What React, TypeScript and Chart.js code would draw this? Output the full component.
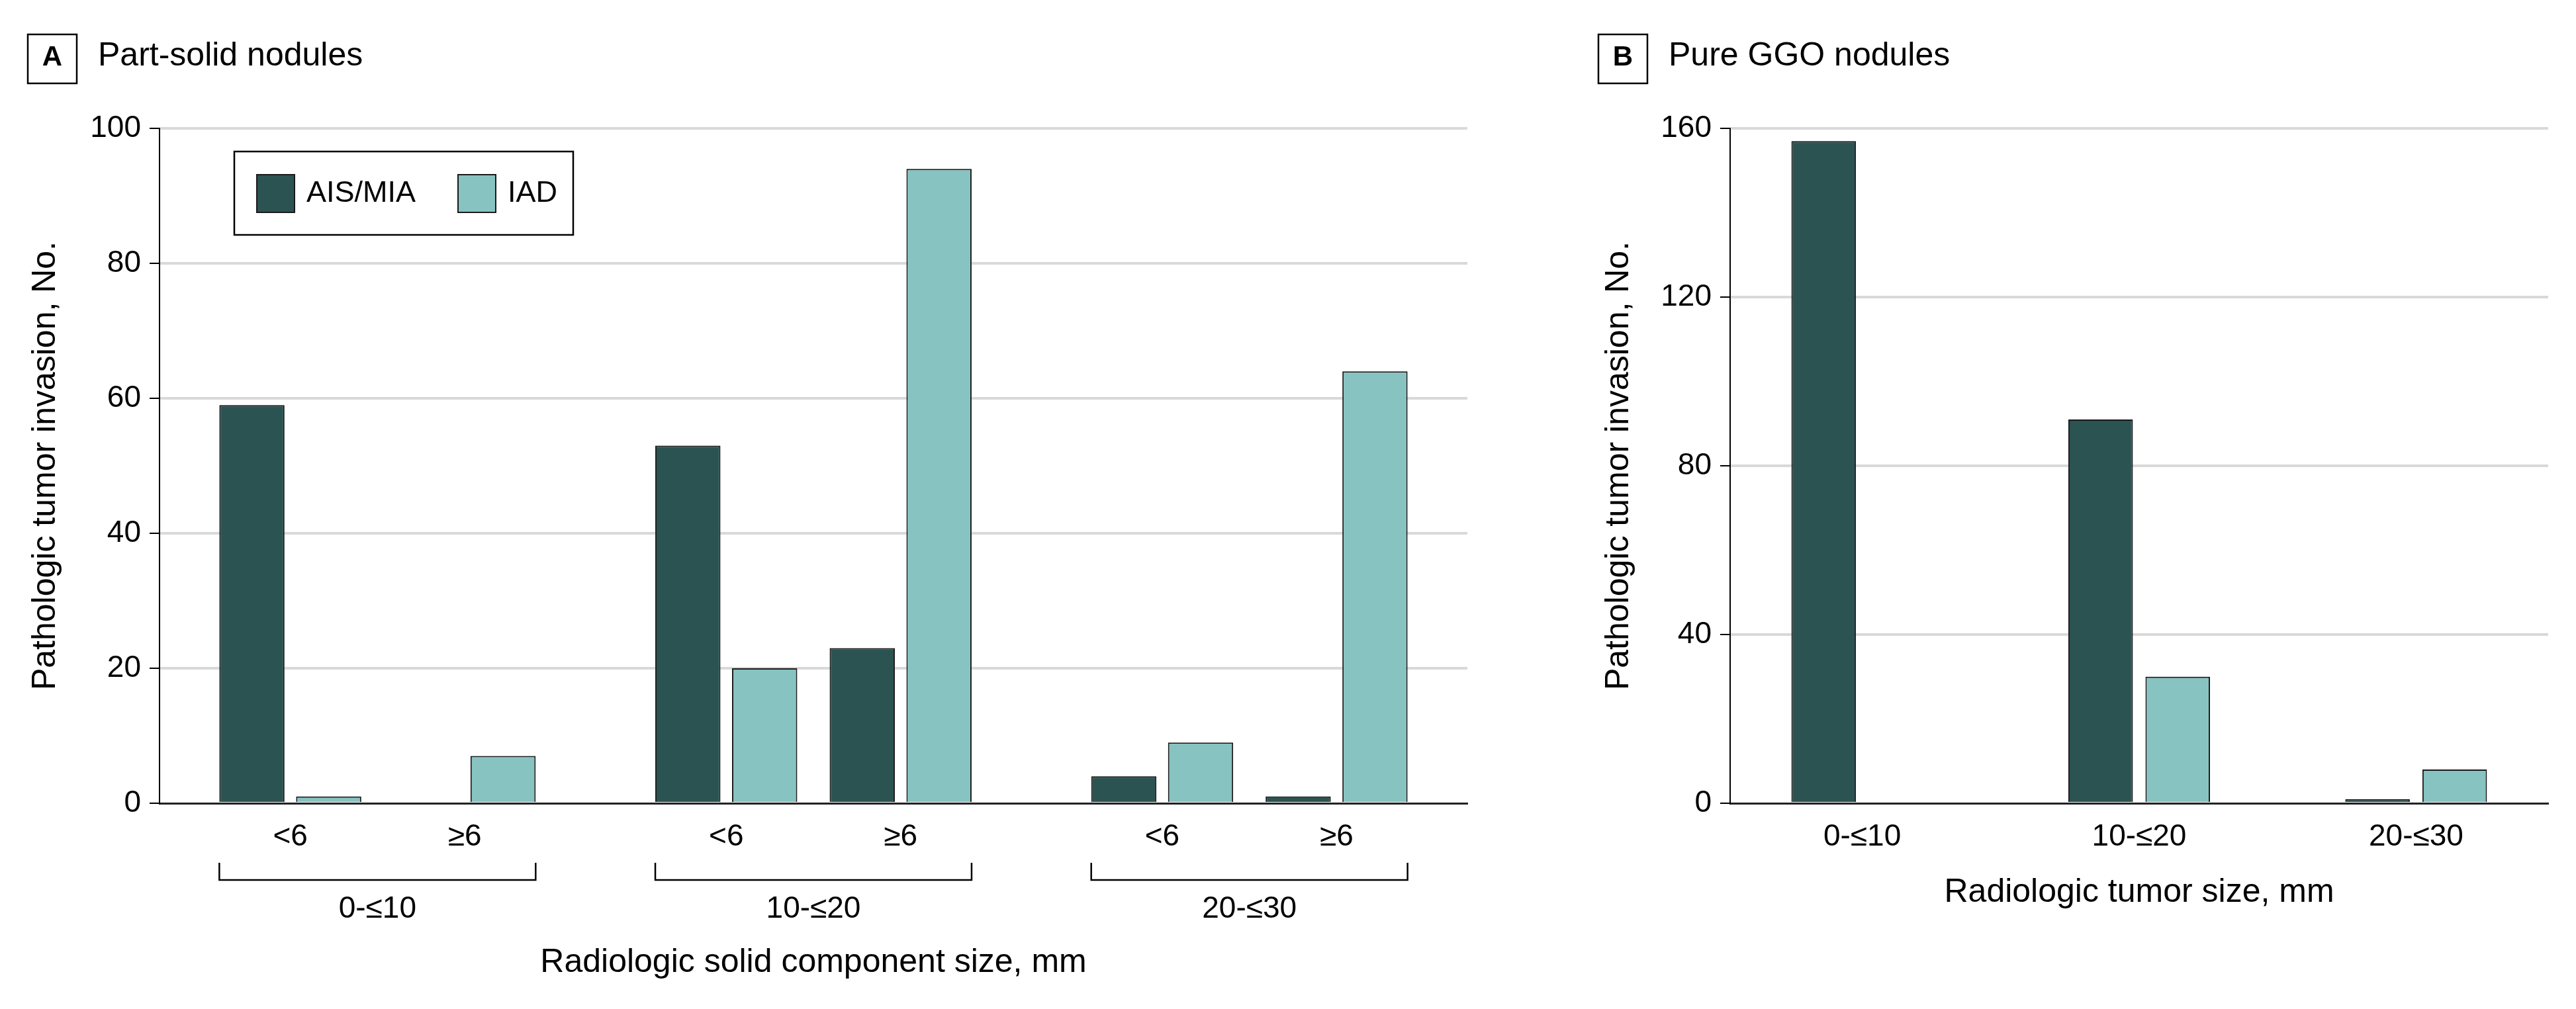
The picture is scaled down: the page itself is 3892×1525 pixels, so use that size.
import React, { useEffect, useRef } from 'react';
import { Chart, registerables } from 'chart.js';

Chart.register(...registerables);

// ---------- data ----------
const seriesNames = ['AIS/MIA', 'IAD'];

// Panel A: part-solid nodules
const sizeGroupsA = ['0-≤10', '10-≤20', '20-≤30'];
const solidSubgroupsA = ['<6', '≥6'];
const aisMiaA = [59, 0, 53, 23, 4, 1];
const iadA = [1, 7, 20, 94, 9, 64];
const yTicksA = [0, 20, 40, 60, 80, 100];

// Panel B: pure GGO nodules
const sizeGroupsB = ['0-≤10', '10-≤20', '20-≤30'];
const aisMiaB = [157, 91, 1];
const iadB = [0, 30, 8];
const yTicksB = [0, 40, 80, 120, 160];

// ---------- styles ----------
const DARK = '#2b5352';
const LIGHT = '#86c3c1';
const GRID = '#d9d9d9';
const FONT = '"Liberation Sans", Arial, Helvetica, sans-serif';

// layout helpers for panel A (group spacing on a linear axis)
const GROUP_STEP = 5;
const SUB_STEP = 2;
const posA = (i: number) => Math.floor(i / solidSubgroupsA.length) * GROUP_STEP + (i % solidSubgroupsA.length) * SUB_STEP;
const groupCenterA = (g: number) => g * GROUP_STEP + ((solidSubgroupsA.length - 1) * SUB_STEP) / 2;

function panelHeader(ctx: CanvasRenderingContext2D, boxX: number, letter: string, title: string) {
  ctx.save();
  ctx.strokeStyle = '#000';
  ctx.lineWidth = 2.5;
  ctx.strokeRect(boxX, 52, 74, 74);
  ctx.fillStyle = '#000';
  ctx.textBaseline = 'alphabetic';
  ctx.textAlign = 'center';
  ctx.font = `bold 42px ${FONT}`;
  ctx.fillText(letter, boxX + 37, 99);
  ctx.textAlign = 'left';
  ctx.font = `50px ${FONT}`;
  ctx.fillText(title, boxX + 106, 99);
  ctx.restore();
}

const headerPlugin = (boxX: number, letter: string, title: string) => ({
  id: 'header' + letter,
  afterDraw(chart: any) {
    panelHeader(chart.ctx, boxX, letter, title);
  },
});

const legendBoxPlugin = {
  id: 'legendBox',
  afterDraw(chart: any) {
    const ctx = chart.ctx as CanvasRenderingContext2D;
    const a = chart.chartArea;
    const x0 = a.left + 113;
    const y0 = a.top + 35;
    ctx.save();
    ctx.fillStyle = '#fff';
    ctx.fillRect(x0, y0, 512, 126);
    ctx.strokeStyle = '#000';
    ctx.lineWidth = 2.5;
    ctx.strokeRect(x0, y0, 512, 126);
    const offsets = [33, 337];
    chart.data.datasets.forEach((ds: any, i: number) => {
      const sx = x0 + offsets[i];
      const sy = y0 + 34;
      ctx.fillStyle = ds.backgroundColor;
      ctx.fillRect(sx, sy, 59, 59);
      ctx.lineWidth = 2;
      ctx.strokeStyle = '#1a1a1a';
      ctx.strokeRect(sx + 1, sy + 1, 57, 57);
      ctx.fillStyle = '#000';
      ctx.font = `45px ${FONT}`;
      ctx.textBaseline = 'middle';
      ctx.textAlign = 'left';
      ctx.fillText(ds.label, sx + 76, sy + 30);
    });
    ctx.restore();
  },
};

const bracketPlugin = {
  id: 'brackets',
  afterDraw(chart: any) {
    const ctx = chart.ctx as CanvasRenderingContext2D;
    const m0 = chart.getDatasetMeta(0).data;
    const m1 = chart.getDatasetMeta(1).data;
    const bottom = chart.chartArea.bottom;
    const n = solidSubgroupsA.length;
    ctx.save();
    ctx.strokeStyle = '#000';
    ctx.lineWidth = 2.5;
    sizeGroupsA.forEach((_, g) => {
      const first = m0[g * n];
      const last = m1[g * n + n - 1];
      const l = first.x - first.width / 2;
      const r = last.x + last.width / 2;
      ctx.beginPath();
      ctx.moveTo(l, bottom + 90);
      ctx.lineTo(l, bottom + 116);
      ctx.lineTo(r, bottom + 116);
      ctx.lineTo(r, bottom + 90);
      ctx.stroke();
    });
    ctx.restore();
  },
};

const yAxisCommon = (ticks: number[], width: number, titlePad: number) => ({
  min: ticks[0],
  max: ticks[ticks.length - 1],
  afterBuildTicks: (s: any) => {
    s.ticks = ticks.map((v) => ({ value: v }));
  },
  afterFit: (s: any) => {
    s.width = width;
  },
  grid: {
    color: (c: any) => (c.tick && c.tick.value === 0 ? 'rgba(0,0,0,0)' : GRID),
    lineWidth: 4,
    drawTicks: true,
    tickLength: 15,
    tickColor: '#000',
    tickWidth: 2,
  },
  border: { display: true, color: '#000', width: 2 },
  ticks: { padding: 13, font: { size: 46, family: FONT }, color: '#000' },
  title: {
    display: true,
    text: 'Pathologic tumor invasion, No.',
    font: { size: 50, family: FONT },
    color: '#000',
    padding: { top: titlePad, bottom: 0 },
  },
});

function ChartA() {
  const ref = useRef<HTMLCanvasElement | null>(null);
  useEffect(() => {
    if (!ref.current) return;
    const chart = new Chart(ref.current, {
      type: 'bar',
      data: {
        datasets: [
          {
            label: seriesNames[0],
            data: aisMiaA.map((v, i) => ({ x: posA(i), y: v })),
            backgroundColor: DARK,
            borderColor: '#1a1a1a',
            borderWidth: 2,
            categoryPercentage: 0.8805,
            barPercentage: 0.849,
            xAxisID: 'x',
          },
          {
            label: seriesNames[1],
            data: iadA.map((v, i) => ({ x: posA(i), y: v })),
            backgroundColor: LIGHT,
            borderColor: '#1a1a1a',
            borderWidth: 2,
            categoryPercentage: 0.8805,
            barPercentage: 0.849,
            xAxisID: 'x',
          },
        ] as any,
      },
      options: {
        animation: false,
        responsive: false,
        devicePixelRatio: 1,
        layout: { padding: { top: 194, right: 83, bottom: 0, left: 0 } },
        plugins: { legend: { display: false }, tooltip: { enabled: false } },
        scales: {
          x: {
            type: 'linear',
            position: 'bottom',
            weight: 0,
            offset: false,
            min: -1.5,
            max: 13.5,
            afterBuildTicks: (s: any) => {
              s.ticks = aisMiaA.map((_, i) => ({ value: posA(i) }));
            },
            afterFit: (s: any) => {
              s.height = 80;
            },
            grid: { display: false, drawTicks: false },
            border: { display: true, color: '#222', width: 3 },
            ticks: {
              autoSkip: false,
              maxRotation: 0,
              padding: 24,
              font: { size: 46, family: FONT },
              color: '#000',
              callback: (_v: any, i: number) => solidSubgroupsA[i % solidSubgroupsA.length],
            },
          },
          xg: {
            type: 'linear',
            position: 'bottom',
            weight: 1,
            offset: false,
            min: -1.5,
            max: 13.5,
            afterBuildTicks: (s: any) => {
              s.ticks = sizeGroupsA.map((_, g) => ({ value: groupCenterA(g) }));
            },
            afterFit: (s: any) => {
              s.height = 231;
            },
            grid: { display: false, drawTicks: false },
            border: { display: false },
            ticks: {
              autoSkip: false,
              maxRotation: 0,
              padding: 53,
              font: { size: 46, family: FONT },
              color: '#000',
              callback: (_v: any, i: number) => sizeGroupsA[i],
            },
            title: {
              display: true,
              text: 'Radiologic solid component size, mm',
              font: { size: 50, family: FONT },
              color: '#000',
              padding: { top: 0, bottom: 40 },
            },
          },
          y: yAxisCommon(yTicksA, 241, 39) as any,
        } as any,
      },
      plugins: [headerPlugin(42, 'A', 'Part-solid nodules'), legendBoxPlugin, bracketPlugin],
    });
    return () => chart.destroy();
  }, []);
  return (
    <canvas
      ref={ref}
      width={2300}
      height={1525}
      style={{ position: 'absolute', left: 0, top: 0, width: 2300, height: 1525 }}
    />
  );
}

function ChartB() {
  const ref = useRef<HTMLCanvasElement | null>(null);
  useEffect(() => {
    if (!ref.current) return;
    const chart = new Chart(ref.current, {
      type: 'bar',
      data: {
        datasets: [
          {
            label: seriesNames[0],
            data: aisMiaB.map((v, i) => ({ x: i, y: v })),
            backgroundColor: DARK,
            borderColor: '#1a1a1a',
            borderWidth: 2,
            categoryPercentage: 0.557,
            barPercentage: 0.837,
          },
          {
            label: seriesNames[1],
            data: iadB.map((v, i) => ({ x: i, y: v })),
            backgroundColor: LIGHT,
            borderColor: '#1a1a1a',
            borderWidth: 2,
            categoryPercentage: 0.557,
            barPercentage: 0.837,
          },
        ] as any,
      },
      options: {
        animation: false,
        responsive: false,
        devicePixelRatio: 1,
        layout: { padding: { top: 194, right: 42, bottom: 0, left: 0 } },
        plugins: { legend: { display: false }, tooltip: { enabled: false } },
        scales: {
          x: {
            type: 'linear',
            position: 'bottom',
            offset: false,
            min: -0.477,
            max: sizeGroupsB.length - 1 + 0.477,
            afterBuildTicks: (s: any) => {
              s.ticks = sizeGroupsB.map((_, i) => ({ value: i }));
            },
            afterFit: (s: any) => {
              s.height = 311;
            },
            grid: { display: false, drawTicks: false },
            border: { display: true, color: '#222', width: 3 },
            ticks: {
              autoSkip: false,
              maxRotation: 0,
              padding: 24,
              font: { size: 46, family: FONT },
              color: '#000',
              callback: (_v: any, i: number) => sizeGroupsB[i],
            },
            title: {
              display: true,
              text: 'Radiologic tumor size, mm',
              font: { size: 50, family: FONT },
              color: '#000',
              padding: { top: 0, bottom: 146 },
            },
          },
          y: yAxisCommon(yTicksB, 314, 116) as any,
        } as any,
      },
      plugins: [headerPlugin(115, 'B', 'Pure GGO nodules')],
    });
    return () => chart.destroy();
  }, []);
  return (
    <canvas
      ref={ref}
      width={1592}
      height={1525}
      style={{ position: 'absolute', left: 2300, top: 0, width: 1592, height: 1525 }}
    />
  );
}

export default function App() {
  return (
    <div
      style={{
        position: 'absolute',
        left: 0,
        top: 0,
        width: 3892,
        height: 1525,
        background: '#fff',
        overflow: 'hidden',
      }}
    >
      <ChartA />
      <ChartB />
    </div>
  );
}
